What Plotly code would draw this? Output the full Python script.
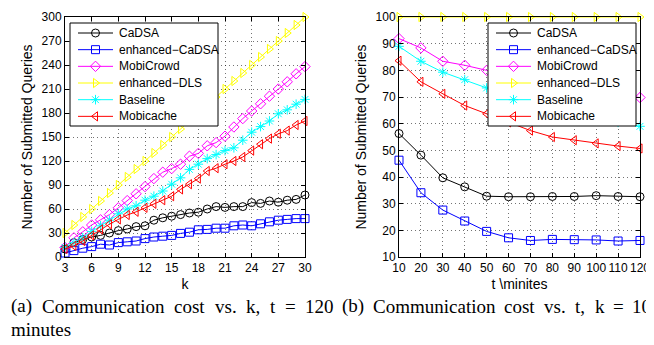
import plotly.graph_objects as go

# ---------------- data: left panel (cost vs k, t = 120 min) ----------------
k_vals = list(range(3, 31))
cadsa_k = [10, 18, 22, 25, 27, 30, 33, 35, 38, 39, 46, 49, 51, 53, 55, 56, 60, 63, 62, 63, 63, 68, 67, 70, 68.5, 71, 72, 77.5]
enh_cadsa_k = [5, 8, 11, 13, 16, 15, 18, 19, 20, 23, 25, 26, 27, 29.5, 31, 34, 34.5, 36, 36, 39, 40, 39, 41.5, 44, 46, 47, 48, 48]
mobicrowd_k = [12, 24, 31.5, 40, 46.5, 53, 61.5, 70.5, 79, 88, 98, 106, 110.5, 116, 126, 129.5, 139, 143, 151, 162.5, 173, 182.5, 191.5, 201, 210, 219, 229, 238]
enh_dls_k = [30, 40, 50, 60, 70, 80, 90, 100, 110, 120, 130, 140, 150, 160, 170, 180, 190, 200, 210, 220, 230, 240, 250, 260, 270, 280, 290, 300]
baseline_k = [12, 18, 24, 32, 39, 46, 54, 60, 64, 71, 76, 82.5, 91, 99, 109.5, 116, 123, 128, 133, 136.5, 146, 156, 163, 170, 179, 184, 191, 197]
mobicache_k = [10, 14, 20, 27, 34.5, 41, 47, 52.5, 56.5, 61.5, 66.5, 71, 76, 84.5, 91, 98, 107.5, 111, 116, 120, 125, 133, 141, 148, 154, 158, 165, 170]

# ---------------- data: right panel (cost vs t, k = 10) ----------------
t_vals = [10, 20, 30, 40, 50, 60, 70, 80, 90, 100, 110, 120]
cadsa_t = [56.3, 48.2, 39.7, 36.3, 32.8, 32.6, 32.6, 32.7, 32.7, 33.0, 32.7, 32.6]
enh_cadsa_t = [46.3, 34.1, 27.6, 23.5, 19.6, 17.2, 16.2, 16.6, 16.5, 16.4, 16.0, 16.2]
mobicrowd_t = [91.9, 88.4, 83.4, 81.9, 80.0, 77.5, 76.0, 74.5, 73.0, 72.0, 71.0, 69.8]
enh_dls_t = [100, 100, 100, 100, 100, 100, 100, 100, 100, 100, 100, 100]
baseline_t = [89.0, 83.4, 79.3, 76.5, 73.4, 70.5, 68.0, 66.0, 64.0, 62.0, 60.5, 59.0]
mobicache_t = [83.6, 75.7, 71.2, 66.8, 63.7, 60.5, 57.4, 55.0, 53.8, 52.6, 51.6, 50.7]

series_names = ["CaDSA", "enhanced\u2212CaDSA", "MobiCrowd", "enhanced\u2212DLS", "Baseline", "Mobicache"]
series_colors = ["#000000", "#0000ff", "#ff00ff", "#ffff00", "#00ffff", "#ff0000"]
series_symbols = ["circle-open", "square-open", "diamond-open", "triangle-right-open", "asterisk-open", "triangle-left-open"]

left_tick_vals = list(range(0, 301, 30))
left_x_ticks = list(range(3, 31, 3))
right_tick_vals = list(range(10, 101, 10))
right_x_ticks = list(range(10, 121, 10))

caption_a_words = ["(a)", "Communication", "cost", "vs.", "k,", "t", "=", "120"]
caption_b_words = ["(b)", "Communication", "cost", "vs.", "t,", "k", "=", "10"]
caption_a_line2 = "minutes"

left_series = [cadsa_k, enh_cadsa_k, mobicrowd_k, enh_dls_k, baseline_k, mobicache_k]
right_series = [cadsa_t, enh_cadsa_t, mobicrowd_t, enh_dls_t, baseline_t, mobicache_t]

# ---------------- layout constants (pixels) ----------------
W, H = 654, 345
SANS = "Liberation Sans, Arial, sans-serif"
SERIF = "Liberation Serif, Times New Roman, serif"
PLOT_TOP, PLOT_BOT = 9, 249
LEFT_X0, LEFT_X1 = 57, 297
RIGHT_X0, RIGHT_X1 = 391, 632

def px_x(p):
    return p / W

def px_y(p):
    return (H - p) / H

fig = go.Figure()

for name, col, sym, ys in zip(series_names, series_colors, series_symbols, left_series):
    fig.add_trace(go.Scatter(
        x=k_vals, y=ys, name=name, mode="lines+markers",
        line=dict(color=col, width=1),
        marker=dict(symbol=sym, size=8, color=col, line=dict(color=col, width=1)),
        cliponaxis=False, xaxis="x", yaxis="y", showlegend=False))

for name, col, sym, ys in zip(series_names, series_colors, series_symbols, right_series):
    fig.add_trace(go.Scatter(
        x=t_vals, y=ys, name=name, mode="lines+markers",
        line=dict(color=col, width=1),
        marker=dict(symbol=sym, size=8, color=col, line=dict(color=col, width=1)),
        cliponaxis=False, xaxis="x2", yaxis="y2", showlegend=False))

# ---------------- MATLAB-style legend boxes on pixel-unit overlay axes ----------------
def add_legend(xa, ya, box_left, box_top):
    box_w, box_h, row_h = 148, 103, 16.67
    bx = [box_left, box_left + box_w, box_left + box_w, box_left, box_left]
    by = [box_top, box_top, box_top + box_h, box_top + box_h, box_top]
    fig.add_trace(go.Scatter(x=bx, y=by, mode="lines", fill="toself", fillcolor="white",
                             line=dict(color="black", width=1), hoverinfo="skip",
                             showlegend=False, xaxis=xa, yaxis=ya))
    for i, (name, col, sym) in enumerate(zip(series_names, series_colors, series_symbols)):
        yc = box_top + 10 + i * row_h
        x0, x1 = box_left + 8, box_left + 43
        fig.add_trace(go.Scatter(x=[x0, x1], y=[yc, yc], mode="lines",
                                 line=dict(color=col, width=1), hoverinfo="skip",
                                 showlegend=False, xaxis=xa, yaxis=ya))
        fig.add_trace(go.Scatter(x=[(x0 + x1) / 2], y=[yc], mode="markers",
                                 marker=dict(symbol=sym, size=8, color=col, line=dict(color=col, width=1)),
                                 hoverinfo="skip", showlegend=False, xaxis=xa, yaxis=ya))
        fig.add_annotation(text=name, xref=xa, yref=ya, x=box_left + 47, y=yc,
                           xanchor="left", yanchor="middle", showarrow=False,
                           font=dict(family=SANS, size=12, color="black"))

add_legend("x3", "y3", 62, 15)
add_legend("x4", "y4", 480, 15)

axis_common = dict(
    showline=True, linecolor="black", linewidth=1, mirror="ticks",
    ticks="inside", ticklen=4, tickcolor="black",
    showgrid=True, gridcolor="rgba(0,0,0,0.55)", gridwidth=1, griddash="1px,3px",
    zeroline=False, automargin=False,
    tickfont=dict(family=SANS, size=12, color="black"),
)
title_font = dict(family=SANS, size=14, color="black")
hidden = dict(visible=False, showgrid=False, zeroline=False, fixedrange=True)

fig.update_layout(
    width=W, height=H,
    margin=dict(l=0, r=0, t=0, b=0),
    paper_bgcolor="white", plot_bgcolor="white",
    showlegend=False,
    xaxis=dict(axis_common, domain=[px_x(LEFT_X0), px_x(LEFT_X1)], range=[3, 30],
               tickvals=left_x_ticks, anchor="y",
               title=dict(text="k", font=title_font, standoff=4)),
    yaxis=dict(axis_common, domain=[px_y(PLOT_BOT), px_y(PLOT_TOP)], range=[0, 300],
               tickvals=left_tick_vals, anchor="x",
               title=dict(text="Number of Submitted Queries", font=title_font, standoff=5)),
    xaxis2=dict(axis_common, domain=[px_x(RIGHT_X0), px_x(RIGHT_X1)], range=[10, 120],
                tickvals=right_x_ticks, anchor="y2",
                title=dict(text="t \\minites", font=title_font, standoff=4)),
    yaxis2=dict(axis_common, domain=[px_y(PLOT_BOT), px_y(PLOT_TOP)], range=[10, 100],
                tickvals=right_tick_vals, anchor="x2",
                title=dict(text="Number of Submitted Queries", font=title_font, standoff=5)),
    xaxis3=dict(hidden, overlaying="x", range=[LEFT_X0, LEFT_X1], anchor="y3"),
    yaxis3=dict(hidden, overlaying="y", range=[PLOT_BOT, PLOT_TOP], anchor="x3"),
    xaxis4=dict(hidden, overlaying="x2", range=[RIGHT_X0, RIGHT_X1], anchor="y4"),
    yaxis4=dict(hidden, overlaying="y2", range=[PLOT_BOT, PLOT_TOP], anchor="x4"),
)

# ---------------- captions (justified LaTeX-like spacing) ----------------
caption_a_x = [2, 33, 165, 206, 237, 261, 276, 296]
caption_b_x = [333, 364, 495, 535, 566, 586, 604, 623]
cap_font = dict(family=SERIF, size=19, color="black")
for words, xs in ((caption_a_words, caption_a_x), (caption_b_words, caption_b_x)):
    for w, xp in zip(words, xs):
        fig.add_annotation(text=w, xref="paper", yref="paper", x=px_x(xp), y=px_y(298),
                           xanchor="left", yanchor="middle", showarrow=False,
                           font=cap_font, borderpad=0)
fig.add_annotation(text=caption_a_line2, xref="paper", yref="paper", x=px_x(2), y=px_y(321),
                   xanchor="left", yanchor="middle", showarrow=False, font=cap_font, borderpad=0)

fig.write_html("out.html")
